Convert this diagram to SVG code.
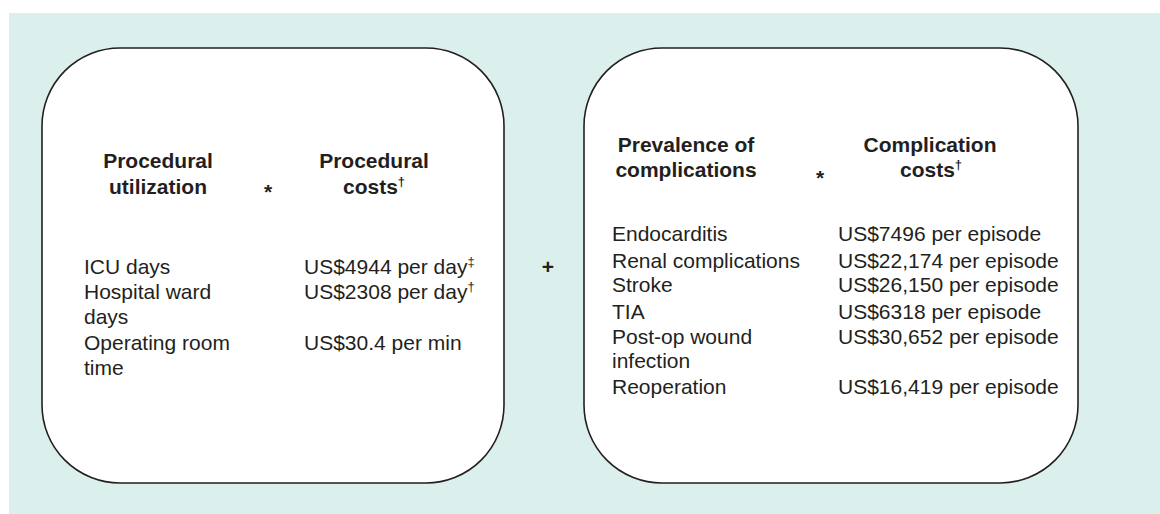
<svg xmlns="http://www.w3.org/2000/svg" width="1160" height="514" viewBox="0 0 1160 514">
<style>
.box{fill:#ffffff;stroke:#231f20;stroke-width:1.6}
.t{font-family:"Liberation Sans",Arial,sans-serif;font-size:21px;fill:#231f20}
.b{font-weight:bold}
.m{text-anchor:middle}
.sup{font-size:13px}
</style>
<rect x="0" y="0" width="1160" height="514" fill="#ffffff"/>
<rect x="9" y="13" width="1151" height="501" fill="#dbefec"/>
<g id="procedural">
<rect class="box" x="42" y="48" width="462" height="435" rx="78" ry="78"/>
<text class="t b m" x="158" y="168">Procedural</text>
<text class="t b m" x="158" y="194">utilization</text>
<text class="t b m" x="268" y="199">*</text>
<text class="t b m" x="374" y="168">Procedural</text>
<text class="t b" x="343" y="194">costs<tspan class="sup" dy="-8">†</tspan></text>
<text class="t" x="84" y="274">ICU days</text>
<text class="t" x="84" y="299">Hospital ward</text>
<text class="t" x="84" y="324">days</text>
<text class="t" x="84" y="350">Operating room</text>
<text class="t" x="84" y="375">time</text>
<text class="t" x="304" y="274">US$4944 per day<tspan class="sup" dy="-8">‡</tspan></text>
<text class="t" x="304" y="299">US$2308 per day<tspan class="sup" dy="-8">†</tspan></text>
<text class="t" x="304" y="350">US$30.4 per min</text>
</g>
<g id="plus">
<text class="t b m" x="548" y="274">+</text>
</g>
<g id="complications">
<rect class="box" x="584" y="48" width="494" height="435" rx="78" ry="78"/>
<text class="t b m" x="686" y="152">Prevalence of</text>
<text class="t b m" x="686" y="177">complications</text>
<text class="t b m" x="820" y="185">*</text>
<text class="t b m" x="930" y="152">Complication</text>
<text class="t b" x="900" y="177">costs<tspan class="sup" dy="-8">†</tspan></text>
<text class="t" x="612" y="241">Endocarditis</text>
<text class="t" x="612" y="268">Renal complications</text>
<text class="t" x="612" y="292">Stroke</text>
<text class="t" x="612" y="319">TIA</text>
<text class="t" x="612" y="344">Post-op wound</text>
<text class="t" x="612" y="368">infection</text>
<text class="t" x="612" y="394">Reoperation</text>
<text class="t" x="838" y="241">US$7496 per episode</text>
<text class="t" x="838" y="268">US$22,174 per episode</text>
<text class="t" x="838" y="292">US$26,150 per episode</text>
<text class="t" x="838" y="319">US$6318 per episode</text>
<text class="t" x="838" y="344">US$30,652 per episode</text>
<text class="t" x="838" y="394">US$16,419 per episode</text>
</g>
<g id="connectors"></g>
</svg>
